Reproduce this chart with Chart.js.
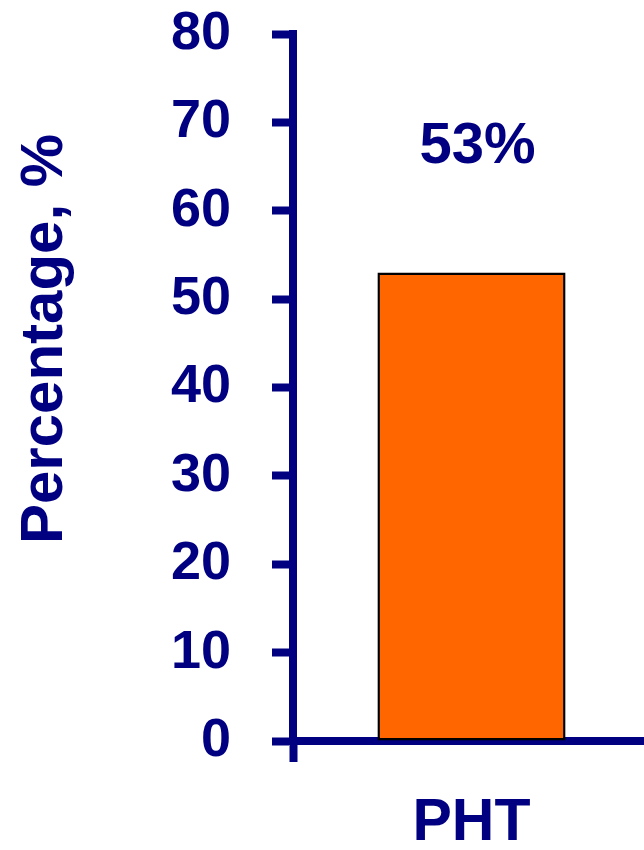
<!DOCTYPE html>
<html>
<head>
<meta charset="utf-8">
<script src="https://cdn.jsdelivr.net/npm/chart.js@4/dist/chart.umd.min.js"></script>
<style>
  html, body { margin: 0; padding: 0; overflow: hidden; background: #ffffff; }
  #wrap { width: 652px; height: 850px; }
</style>
</head>
<body>
<div id="wrap"><canvas id="c" width="652" height="850"></canvas></div>
<script>
const categories = ["PHT"];
const values = [53];
const valueLabels = ["53%"];
const yTicks = [0, 10, 20, 30, 40, 50, 60, 70, 80];
const yTitle = "Percentage, %";

const NAVY = "#000080";
const FONT = "'Liberation Sans', Arial, sans-serif";

const titlePlugin = {
  id: "yTitle",
  afterDraw(chart) {
    const ctx = chart.ctx;
    ctx.save();
    ctx.translate(62, 339);
    ctx.rotate(-Math.PI / 2);
    ctx.font = "bold 60px " + FONT;
    ctx.fillStyle = NAVY;
    ctx.textAlign = "center";
    ctx.textBaseline = "alphabetic";
    ctx.fillText(yTitle, 0, 0);
    ctx.restore();
  }
};

const valueLabelPlugin = {
  id: "valueLabels",
  afterDatasetsDraw(chart) {
    const ctx = chart.ctx;
    const meta = chart.getDatasetMeta(0);
    ctx.save();
    ctx.font = "bold 58px " + FONT;
    ctx.fillStyle = NAVY;
    ctx.textAlign = "center";
    ctx.textBaseline = "middle";
    meta.data.forEach((bar, i) => {
      ctx.fillText(valueLabels[i], bar.x + 6, bar.y - 126);
    });
    ctx.restore();
  }
};

new Chart(document.getElementById("c"), {
  type: "bar",
  data: {
    labels: categories,
    datasets: [{
      data: values,
      backgroundColor: "#FF6600",
      borderColor: "#000000",
      borderWidth: 2.5,
      borderSkipped: false,
      barPercentage: 0.527,
      categoryPercentage: 1.0
    }]
  },
  options: {
    responsive: false,
    animation: false,
    devicePixelRatio: 1,
    layout: { padding: { top: 0, right: 2, bottom: 0, left: 0 } },
    plugins: {
      legend: { display: false },
      tooltip: { enabled: false }
    },
    scales: {
      x: {
        offset: true,
        afterFit(scale) { scale.height = 109; },
        grid: {
          offset: true,
          drawOnChartArea: false,
          drawTicks: true,
          tickLength: 21,
          tickWidth: 8,
          tickColor: NAVY
        },
        border: { display: true, color: NAVY, width: 8 },
        ticks: {
          color: NAVY,
          font: { family: FONT, size: 59, weight: "bold" },
          padding: 26
        }
      },
      y: {
        min: 0,
        max: 80,
        afterFit(scale) {
          scale.width = 293;
          scale.paddingTop = 34;
          scale.paddingBottom = 0;
        },
        afterBuildTicks(scale) { scale.ticks = yTicks.map(v => ({ value: v })); },
        grid: {
          drawOnChartArea: false,
          drawTicks: true,
          tickLength: 21,
          tickWidth: 8,
          tickColor: NAVY
        },
        border: { display: true, color: NAVY, width: 8 },
        ticks: {
          color: NAVY,
          font: { family: FONT, size: 54, weight: "bold" },
          padding: 41
        }
      }
    }
  },
  plugins: [titlePlugin, valueLabelPlugin]
});
</script>
</body>
</html>
